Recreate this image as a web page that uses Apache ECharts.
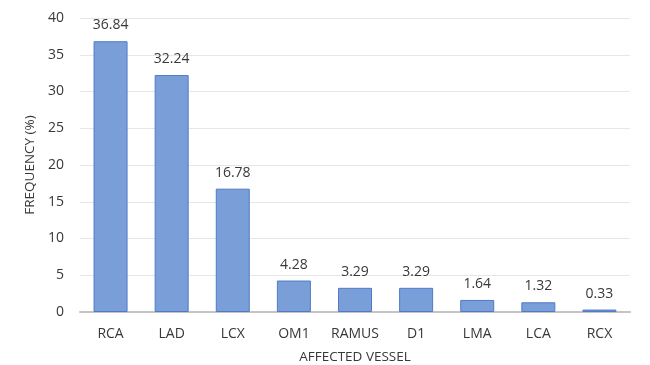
<!DOCTYPE html>
<html>
  <head>
    <title></title>
    <meta charset="UTF-8" />
    <script src="https://cdn.jsdelivr.net/npm/echarts@6/dist/echarts.min.js"></script>
    <style>
      body { margin: 0; background: #fff; }
    </style>
  </head>
  <body>
    <div id="main"></div>
    <script>
      const width = 650;
      const height = 365;
      const main = document.getElementById('main');
      main.style.width = `${width}px`;
      main.style.height = `${height}px`;

      const vessels = ['RCA', 'LAD', 'LCX', 'OM1', 'RAMUS', 'D1', 'LMA', 'LCA', 'RCX'];
      const frequency = [36.84, 32.24, 16.78, 4.28, 3.29, 3.29, 1.64, 1.32, 0.33];

      const font = 'Open Sans';
      const textColor = '#383838';

      const myChart = echarts.init(main);
      const option = {
        animation: false,
        backgroundColor: '#fff',
        grid: {
          left: 80,
          right: 20,
          top: 18,
          bottom: 53,
          outerBoundsMode: 'none'
        },
        xAxis: {
          type: 'category',
          data: vessels,
          name: 'AFFECTED VESSEL',
          nameLocation: 'middle',
          nameGap: 38,
          nameTextStyle: { color: textColor, fontFamily: font, fontSize: 13.5 },
          axisLine: { lineStyle: { color: '#c4c4c4', width: 2 } },
          axisTick: { show: false },
          axisLabel: { interval: 0, color: textColor, fontFamily: font, fontSize: 14, margin: 15 }
        },
        yAxis: {
          type: 'value',
          min: 0,
          max: 40,
          interval: 5,
          name: 'FREQUENCY (%)',
          nameLocation: 'middle',
          nameGap: 39,
          nameTextStyle: { color: textColor, fontFamily: font, fontSize: 13.5 },
          axisLine: { show: false },
          axisTick: { show: false },
          axisLabel: { color: textColor, fontFamily: font, fontSize: 14, margin: 16 },
          splitLine: { lineStyle: { color: '#e6e6e6', width: 1 } }
        },
        series: [
          {
            type: 'bar',
            data: frequency,
            barWidth: 34,
            itemStyle: {
              color: '#7a9fd8',
              borderColor: '#4f7ac7',
              borderWidth: 1
            },
            label: {
              show: true,
              position: 'top',
              distance: 9,
              color: textColor,
              fontFamily: font,
              fontSize: 14,
              formatter: p => p.value.toFixed(2)
            }
          }
        ]
      };
      myChart.setOption(option);
    </script>
  </body>
</html>
